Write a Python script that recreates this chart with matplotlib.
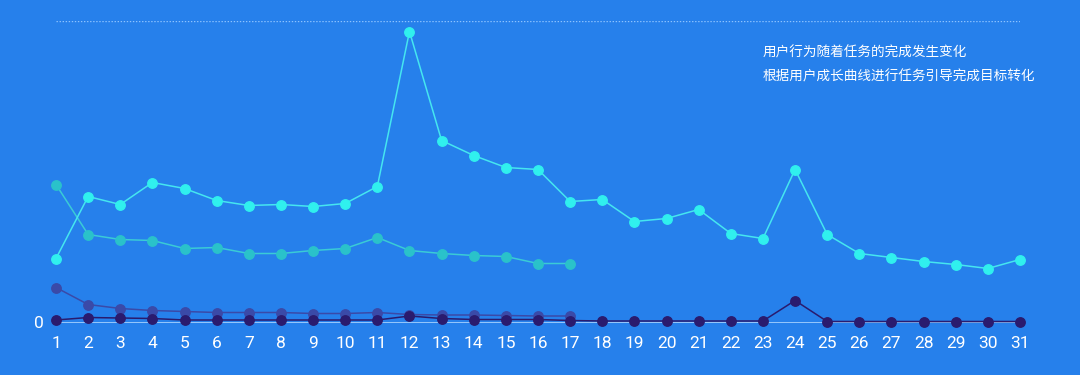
import matplotlib
matplotlib.use("Agg")
import matplotlib.pyplot as plt

days = list(range(1, 32))
tick_labels = [str(d) for d in days]

cyan_vals = [64, 126, 118, 140, 134, 122, 117, 118, 116, 119, 136, 291, 182, 167, 155, 153,
             121, 123, 101, 104, 113, 89, 84, 153, 88, 69, 65, 61, 58, 54, 63]
teal_vals = [138, 88, 83, 82, 74, 75, 69, 69, 72, 74, 85, 72, 69, 67, 66, 59, 59]
purple_vals = [35, 18, 14, 12, 11, 10, 10, 10, 9, 9, 10, 8, 7.5, 7.5, 7, 6.5, 6.5]
navy_vals = [2.5, 5, 4.5, 4, 2.5, 2.5, 2.5, 2.5, 2.5, 2.5, 2.5, 6.5, 4, 3, 3, 3, 2, 1.5,
             1.5, 1.5, 1.5, 1.5, 1.5, 22, 1, 1, 1, 1, 1, 1, 1]

notes = ["用户行为随着任务的完成发生变化", "根据用户成长曲线进行任务引导完成目标转化"]

BG = "#2680EB"
plt.rcParams['font.family'] = ['Noto Sans CJK SC', 'DejaVu Sans']

fig = plt.figure(figsize=(10.8, 3.75), dpi=100, facecolor=BG)
W, H = 1080, 375
x0, x1 = 56, 1020
y0, y1 = 322.5, 21
ax = fig.add_axes([x0 / W, (H - y0) / H, (x1 - x0) / W, (y0 - y1) / H])
ax.set_facecolor(BG)
ax.set_xlim(1, 31)
ax.set_ylim(0, y0 - y1)

# baseline and top dotted line
ax.axhline(0, color="#a9d4ff", lw=1.2, zorder=1)
ax.axhline(y0 - y1, color="#8cc2ff", lw=1, ls=(0, (1, 1.2)), zorder=1)

def series(vals, color, lcolor, z, ms=6.8):
    xs = days[:len(vals)]
    ax.plot(xs, vals, color=lcolor, lw=1.1, marker="o", markersize=ms,
            markerfacecolor=color, markeredgecolor=color, clip_on=False, zorder=z)

series(purple_vals, "#3A4AA8", "#3A4AA8", 3)
series(navy_vals, "#2A1B6E", "#2A1B6E", 4)
series(teal_vals, "#2AC2CA", "#3ACBD6", 5)
series(cyan_vals, "#30F0EE", "#45E6F0", 6)

for s in ax.spines.values():
    s.set_visible(False)
ax.set_yticks([])
ax.set_xticks(days)
ax.set_xticklabels(tick_labels, color="white", fontsize=12.5, family=['Roboto', 'DejaVu Sans'])
ax.tick_params(axis="x", length=0, pad=9.5)

fig.text(39 / W, (H - 323) / H, "0", color="white", fontsize=12.5, ha="center", va="center",
         family=['Roboto', 'DejaVu Sans'])

for i, t in enumerate(notes):
    fig.text(763 / W, (H - (52 + 25 * i)) / H, t, color="white", fontsize=9.8,
             ha="left", va="center")

fig.savefig("out.png", dpi=100, facecolor=BG)
